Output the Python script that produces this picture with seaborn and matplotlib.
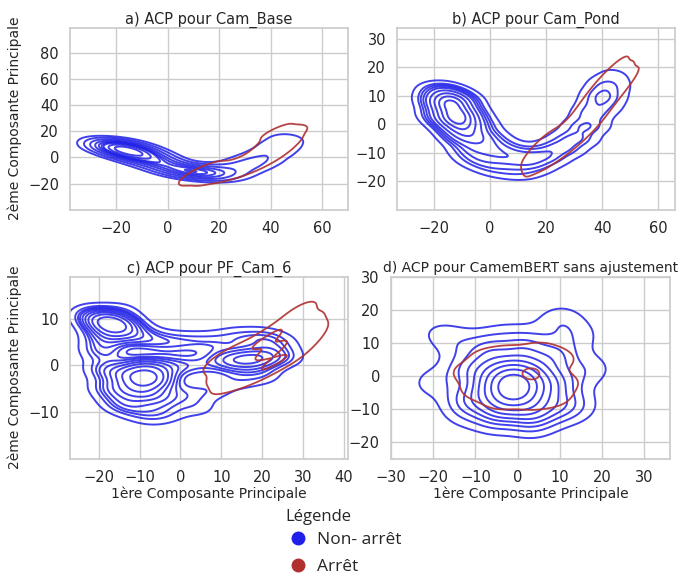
import matplotlib
matplotlib.use("Agg")
import matplotlib.pyplot as plt
from matplotlib.lines import Line2D
import seaborn as sns

# anchor points (x, y, weight) read off the density shapes of each panel
# a) Cam_Base, three rows along the band
a_blue_x = [-24, -21, -18, -14, -10, -6, -2, 2, 6, 10, 14, 18, 22, 26, 30, 34, 38, 42, 45, 47,
            -24, -21, -18, -14, -10, -6, -2, 2, 6, 10, 14, 18, 22, 26, 30, 34, 38, 42, 45, 47,
            -24, -21, -18, -14, -10, -6, -2, 2, 6, 10, 14, 18, 22, 26, 30, 34, 38, 42, 45, 47]
a_blue_y = [10, 9, 7, 4, 1, -2, -5, -8, -10, -11, -12, -12, -11, -9, -6, -3, 1, 6, 11, 16,
            13, 12, 10, 7, 4, 1, -2, -5, -7, -8, -9, -9, -8, -6, -3, 0, 4, 9, 14, 19,
            7, 6, 4, 1, -2, -5, -8, -11, -13, -14, -15, -15, -14, -12, -9, -6, -2, 3, 8, 13]
a_blue_w = [0.6, 3, 5, 6, 3.5, 2.5, 2, 1.8, 1.8, 2, 2, 1.3, 1, 0.8, 0.8, 0.8, 0.8, 0.8, 0.7, 0.5,
            0.4, 1.8, 3, 3.6, 2.1, 1.5, 1.2, 1.1, 1.1, 1.2, 1.2, 0.8, 0.6, 0.5, 0.5, 0.5, 0.5, 0.5, 0.4, 0.3,
            0.4, 1.8, 3, 3.6, 2.1, 1.5, 1.2, 1.1, 1.1, 1.2, 1.2, 0.8, 0.6, 0.5, 0.5, 0.5, 0.5, 0.5, 0.4, 0.3]
a_red_x = [13, 19, 25, 31, 36, 40, 43, 45,
           13, 19, 24, 29, 34, 38, 41, 42,
           13, 19, 26, 33, 38, 42, 45, 47]
a_red_y = [-12, -12, -10, -6, -1, 5, 11, 18,
           -10, -10, -8, -4, 1, 7, 13, 20,
           -14, -14, -12, -8, -3, 3, 9, 16]

# b) Cam_Pond
b_blue_x = [-20, -17, -14, -11, -9, -6, -3, 1, 5, 10, 15, 20, 25, 30, 34, 37, 40, 42, 45,
            -20, -17, -14, -11, -8, -4, 0, 4, 8, 12, 17, 22, 27, 31, 34, 36, 38, 40, 43,
            -20, -17, -14, -11, -10, -8, -6, -2, 2, 8, 13, 18, 23, 29, 34, 38, 42, 44, 47]
b_blue_y = [9, 8, 6, 3, 0, -4, -7, -10, -12, -13, -13, -11, -8, -5, -1, 4, 9, 13, 17,
            12, 12, 10, 8, 4, 0, -4, -7, -9, -10, -10, -8, -5, -1, 3, 7, 11, 15, 19,
            4, 3, 1, -2, -5, -9, -12, -14, -16, -17, -17, -15, -12, -9, -5, 0, 6, 10, 14]
b_blue_w = [0.8, 3, 6, 6, 3.5, 2.5, 2, 1.6, 1.3, 1.1, 1.1, 1.05, 1.05, 1.05, 1.05, 1.05, 1.05, 0.9, 0.5,
            0.5, 1.8, 3.6, 3.6, 2.1, 1.5, 1.2, 1, 0.8, 0.7, 0.65, 0.65, 0.65, 0.65, 0.65, 0.65, 0.65, 0.55, 0.3,
            0.5, 1.8, 3.6, 3.6, 2.1, 1.5, 1.2, 1, 0.8, 0.7, 0.65, 0.65, 0.65, 0.65, 0.65, 0.65, 0.65, 0.55, 0.3]
b_red_x = [18, 23, 29, 34, 38, 42, 45,
           17, 22, 28, 32, 36, 40, 43,
           19, 24, 30, 36, 40, 44, 47]
b_red_y = [-10, -8, -4, 1, 7, 12, 16,
           -8, -6, -2, 3, 9, 14, 18,
           -12, -10, -6, -1, 5, 10, 14]

# c) PF_Cam_6
c_blue_x = [-17, -20, -14, -18, -19, -18, -17, -15, -9, -12, -6, -9, -9, -12, -6,
            -10, -4, 2, 8, 14, 20, 24, -2, 4, 10, 14, 18, 22, 26,
            -4, 2, 8, 14, 20, -12, -4, 4, -8, -22, -14]
c_blue_y = [9, 10, 8, 6, 3, -1, -5, -8, -3, -2, -3, -6, 0, -5, -1,
            6, 5, 5, 5, 6, 6, 5, 0, 0, 1, 1, 1.5, 2, 2,
            -7, -6, -5, -3, -2, -9, -10, -9, -11, 11, 12]
c_blue_w = [6, 2, 2.5, 2.5, 2, 2, 1.8, 1.2, 3.5, 2.5, 2.5, 2.2, 2, 1.5, 1.5,
            2, 1.5, 1.2, 1.2, 1.2, 1.2, 1, 1.5, 1.3, 1.5, 2.2, 2.5, 1.6, 0.8,
            1.3, 1.1, 1, 1, 1, 1.2, 1.1, 0.9, 0.8, 0.8, 0.6]
c_red_x = [10, 14, 18, 22, 26, 30, 32,
           9, 13, 17, 21, 24.5, 28, 30,
           11, 15, 19, 23, 27.5, 31.5, 33.5]
c_red_y = [-2, 0, 1, 3, 5, 8, 10,
           0.5, 2.5, 3.5, 5.5, 7.5, 10.5, 12,
           -4, -3, -1.5, 0.5, 2.5, 5.5, 8]
c_red_w = [1, 1, 1.3, 2, 1.6, 0.9, 0.6,
           1, 1, 1.3, 2, 1.6, 0.9, 0.6,
           1, 1, 1.3, 2, 1.6, 0.9, 0.6]

# d) CamemBERT sans ajustement
d_blue_x = [-1, 4, 3, -1, -5, -6, -5, -1, 3,
            10, 9, 2, -7, -12, -12, -5, 4, 10,
            17, 14, 9, -3, -14, -19, -20, -12, 3, 14, 11]
d_blue_y = [-3, -3, 1, 2, 1, -3, -7, -8, -7,
            -2, 6, 9, 8, 2, -7, -12, -12, -9,
            2, 12, 16, 12, 10, 13, -2, -11, -14, -9, 17]
d_blue_w = [4, 2.5, 2.5, 2.5, 2.5, 2.5, 2.5, 2.5, 2.5,
            2, 2, 2, 2, 2, 2, 2, 2, 2,
            1, 0.9, 0.7, 0.6, 0.9, 0.6, 0.9, 0.8, 0.7, 0.8, 0.5]
d_red_x = [3, -11, -7, -2, 5, 9, 10, 8, 3, -4, -9, -4, 4]
d_red_y = [1, 1, 5, 6, 7, 5, -2, -6, -7, -7, -4, -2, -3]
d_red_w = [3, 1, 1, 1, 1, 1, 1, 1, 1, 1, 1, 1, 1]

titles = ["a) ACP pour Cam_Base", "b) ACP pour Cam_Pond",
          "c) ACP pour PF_Cam_6", "d) ACP pour CamemBERT sans ajustement"]
legend_labels = ["Non- arrêt", "Arrêt"]

BLUE = "#2020e8"
RED = "#b03030"

sns.set_theme(style="whitegrid")
plt.rcParams["font.family"] = ["DejaVu Sans"]

fig = plt.figure(figsize=(6.8, 5.75), dpi=100)
axes = [
    fig.add_axes([0.103, 0.635, 0.409, 0.317]),
    fig.add_axes([0.584, 0.635, 0.409, 0.317]),
    fig.add_axes([0.103, 0.202, 0.409, 0.317]),
    fig.add_axes([0.575, 0.202, 0.410, 0.317]),
]

panels = [
    (a_blue_x, a_blue_y, a_blue_w, 0.6, a_red_x, a_red_y, None, 0.8, [0.08]),
    (b_blue_x, b_blue_y, b_blue_w, 0.45, b_red_x, b_red_y, None, 0.8, [0.08]),
    (c_blue_x, c_blue_y, c_blue_w, 0.5, c_red_x, c_red_y, c_red_w, 0.75, [0.08, 0.8]),
    (d_blue_x, d_blue_y, d_blue_w, 0.8, d_red_x, d_red_y, d_red_w, 0.7, [0.08, 0.95]),
]

for ax, (bx, by, bw, bwa, rx, ry, rw, rbwa, red_levels) in zip(axes, panels):
    sns.kdeplot(x=bx, y=by, weights=bw, ax=ax, color=BLUE, levels=10,
                thresh=0.05, bw_adjust=bwa, linewidths=1.4, alpha=0.85)
    sns.kdeplot(x=rx, y=ry, weights=rw, ax=ax, color=RED, levels=red_levels,
                bw_adjust=rbwa, linewidths=1.3, alpha=0.9)

limits = [((-38, 70), (-40, 99)), ((-33, 66), (-30, 34)),
          ((-27, 41), (-20, 19)), ((-30, 36), (-25, 30))]
for ax, title, (xl, yl) in zip(axes, titles, limits):
    ax.set_xlim(xl)
    ax.set_ylim(yl)
    ax.set_title(title, fontsize=10.5, pad=3)
    ax.tick_params(labelsize=10.5, pad=2)
    ax.set_xlabel("")
    ax.set_ylabel("")
axes[3].set_title(titles[3], fontsize=10, pad=3)

axes[0].set_yticks([-20, 0, 20, 40, 60, 80])
axes[1].set_yticks([-20, -10, 0, 10, 20, 30])
axes[2].set_yticks([-10, 0, 10])
axes[2].set_xticks([-20, -10, 0, 10, 20, 30, 40])
axes[3].set_xticks([-30, -20, -10, 0, 10, 20, 30])
axes[3].set_yticks([-20, -10, 0, 10, 20, 30])

for ax in (axes[0], axes[2]):
    ax.set_ylabel("2ème Composante Principale", fontsize=10)
for ax in (axes[2], axes[3]):
    ax.set_xlabel("1ère Composante Principale", fontsize=10, labelpad=1)

fig.text(0.419, 0.101, "Légende", family="Open Sans", fontsize=12,
         ha="left", va="center")
handles = [Line2D([], [], marker="o", linestyle="", markersize=9,
                  color=c) for c in (BLUE, RED)]
leg = fig.legend(handles, legend_labels, loc="upper left",
                 bbox_to_anchor=(0.41, 0.090), frameon=False,
                 prop={"family": "Open Sans", "size": 12.5},
                 handletextpad=0.5, labelspacing=0.6, borderpad=0.0,
                 handlelength=1.2)

fig.savefig("out.png", dpi=100)
